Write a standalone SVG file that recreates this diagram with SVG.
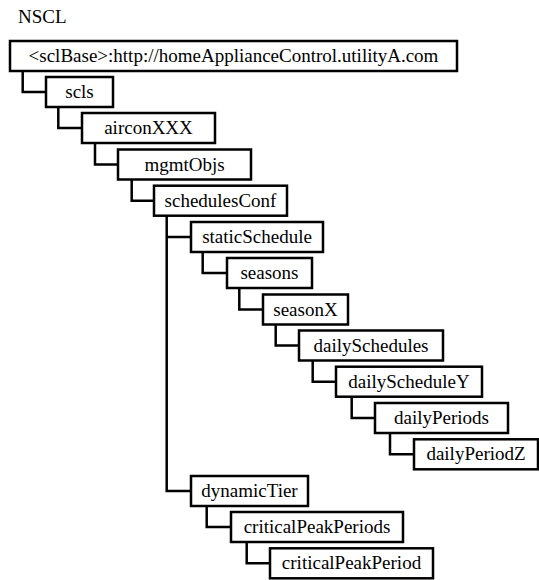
<svg xmlns="http://www.w3.org/2000/svg" width="539" height="580" viewBox="0 0 539 580">
  <style>
    .box { fill: #fff; stroke: #000; stroke-width: 2.5; }
    text { font-family: 'Liberation Serif', 'Times New Roman', serif; font-size: 19px; fill: #000; }
    .lbl { text-anchor: middle; }
    .link { fill: none; stroke: #000; stroke-width: 2.5; stroke-linejoin: miter; }
  </style>
  <rect width="539" height="580" fill="#fff"/>
  <text x="18" y="22.5">NSCL</text>

  <!-- elbow connectors: down from the parent, then right into the child -->
  <g id="connectors">
    <path class="link" d="M22.7 71 V92 H46"/>
    <path class="link" d="M58.3 107 V128 H82"/>
    <path class="link" d="M95 143 V164.5 H118"/>
    <path class="link" d="M131.7 179.5 V200.7 H154"/>
    <path class="link" d="M166.7 215.7 V491 H191"/>
    <path class="link" d="M166.7 237 H191"/>
    <path class="link" d="M202.7 252 V273 H227"/>
    <path class="link" d="M239.3 288 V309.5 H263"/>
    <path class="link" d="M275.7 324.5 V345.5 H299"/>
    <path class="link" d="M312.7 360.5 V381.7 H336"/>
    <path class="link" d="M351.7 396.7 V418 H375"/>
    <path class="link" d="M390 433 V454.3 H414"/>
    <path class="link" d="M206.7 506 V527 H231"/>
    <path class="link" d="M246.7 542 V563.3 H270"/>
  </g>

  <g id="sclBase">
    <rect class="box" x="10" y="41" width="447" height="30"/>
    <text class="lbl" x="233.5" y="62">&lt;sclBase&gt;:http://homeApplianceControl.utilityA.com</text>
  </g>
  <g id="scls">
    <rect class="box" x="46" y="77" width="67" height="30"/>
    <text class="lbl" x="79.5" y="98">scls</text>
  </g>
  <g id="airconXXX">
    <rect class="box" x="82" y="113" width="133" height="30"/>
    <text class="lbl" x="148.5" y="134">airconXXX</text>
  </g>
  <g id="mgmtObjs">
    <rect class="box" x="118" y="149.5" width="133" height="30"/>
    <text class="lbl" x="184.5" y="170.5">mgmtObjs</text>
  </g>
  <g id="schedulesConf">
    <rect class="box" x="154" y="185.7" width="133" height="30"/>
    <text class="lbl" x="220.5" y="206.7">schedulesConf</text>
  </g>
  <g id="staticSchedule">
    <rect class="box" x="191" y="222" width="132" height="30"/>
    <text class="lbl" x="257" y="243">staticSchedule</text>
  </g>
  <g id="seasons">
    <rect class="box" x="227" y="258" width="85" height="30"/>
    <text class="lbl" x="269.5" y="279">seasons</text>
  </g>
  <g id="seasonX">
    <rect class="box" x="263" y="294.5" width="85" height="30"/>
    <text class="lbl" x="305.5" y="315.5">seasonX</text>
  </g>
  <g id="dailySchedules">
    <rect class="box" x="299" y="330.5" width="144" height="30"/>
    <text class="lbl" x="371" y="351.5">dailySchedules</text>
  </g>
  <g id="dailyScheduleY">
    <rect class="box" x="336" y="366.7" width="146" height="30"/>
    <text class="lbl" x="409" y="387.7">dailyScheduleY</text>
  </g>
  <g id="dailyPeriods">
    <rect class="box" x="375" y="403" width="133" height="30"/>
    <text class="lbl" x="441.5" y="424">dailyPeriods</text>
  </g>
  <g id="dailyPeriodZ">
    <rect class="box" x="414" y="439.3" width="124" height="30"/>
    <text class="lbl" x="476" y="460.3">dailyPeriodZ</text>
  </g>
  <g id="dynamicTier">
    <rect class="box" x="191" y="476" width="117" height="30"/>
    <text class="lbl" x="249.5" y="497">dynamicTier</text>
  </g>
  <g id="criticalPeakPeriods">
    <rect class="box" x="231" y="512" width="172" height="30"/>
    <text class="lbl" x="317" y="533">criticalPeakPeriods</text>
  </g>
  <g id="criticalPeakPeriod">
    <rect class="box" x="270" y="548.3" width="163" height="30"/>
    <text class="lbl" x="351.5" y="569.3">criticalPeakPeriod</text>
  </g>
</svg>
